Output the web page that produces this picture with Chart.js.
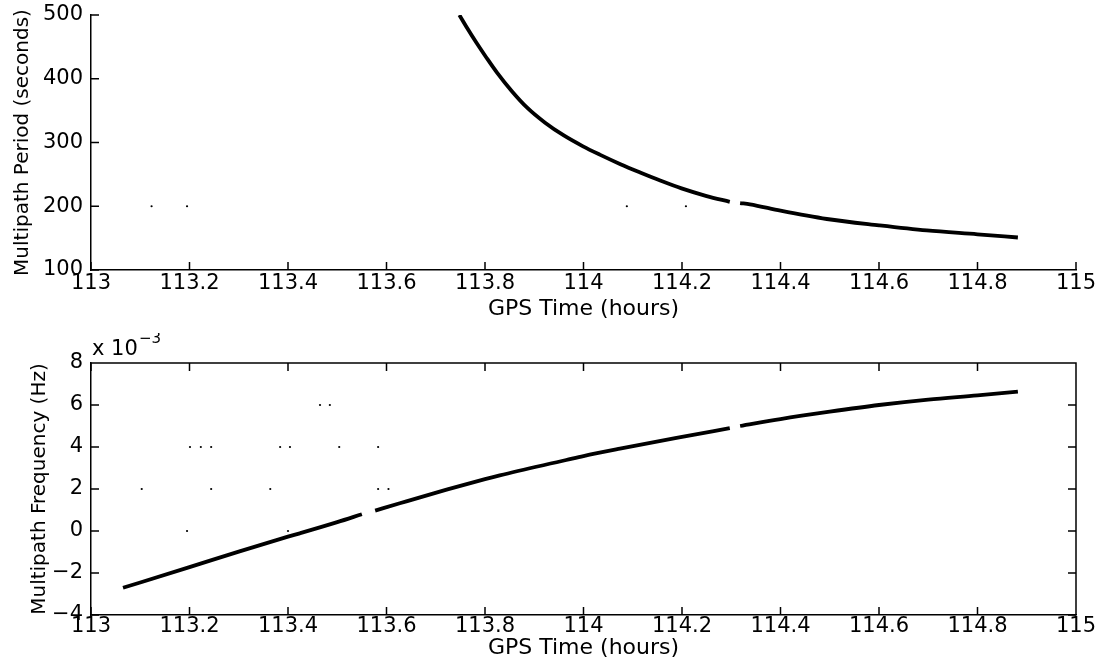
<!DOCTYPE html>
<html>
<head>
<meta charset="utf-8">
<script src="https://cdn.jsdelivr.net/npm/chart.js@4.4.0/dist/chart.umd.min.js"></script>
<style>
    body { margin: 0; background: #fff; }
    #wrap { position: relative; width: 1104px; height: 667px; }
    canvas { position: absolute; left: 0; }
    #periodChart { top: 0; }
    #freqChart { top: 333px; }
</style>
</head>
<body>
<div id="wrap">
    <canvas id="periodChart" width="1104" height="333"></canvas>
    <canvas id="freqChart" width="1104" height="334"></canvas>
</div>
<script>
//data (time in GPS hours)
//period curve, two pieces either side of the gap at ~114.3 h
const periodTimeA = [113.748, 113.765, 113.783, 113.803, 113.824, 113.855, 113.885, 113.922, 113.960,
    113.999, 114.033, 114.075, 114.115, 114.157, 114.199, 114.250, 114.297];
const periodValA = [500, 478, 456, 433, 410, 380, 355, 331, 311, 294, 281, 266, 253, 240, 228, 216, 207];
const periodTimeB = [114.318, 114.338, 114.400, 114.494, 114.600, 114.697, 114.800, 114.882];
const periodValB = [205, 203, 193, 180, 170, 162, 156, 151];
//lone outliers in the period plot
const periodDotTime = [113.123, 113.195, 114.088, 114.208];
const periodDotVal = [200, 200, 200, 200];

//frequency curve (x 10^-3 Hz), three pieces
const freqTimeA = [113.065, 113.100, 113.200, 113.300, 113.400, 113.424, 113.500, 113.550];
const freqValA = [-2.70, -2.45, -1.72, -0.98, -0.27, -0.11, 0.42, 0.80];
const freqTimeB = [113.577, 113.627, 113.722, 113.800, 113.830, 113.965, 114.000, 114.074, 114.200, 114.297];
const freqValB = [0.97, 1.32, 1.97, 2.47, 2.65, 3.38, 3.57, 3.92, 4.48, 4.90];
const freqTimeC = [114.318, 114.400, 114.500, 114.600, 114.700, 114.800, 114.882];
const freqValC = [5.00, 5.33, 5.68, 6.00, 6.26, 6.46, 6.64];
//lone outliers in the frequency plot
const freqDotTime = [113.465, 113.485, 113.201, 113.223, 113.244, 113.384, 113.404, 113.504, 113.583,
    113.103, 113.244, 113.364, 113.583, 113.604, 113.195, 113.400];
const freqDotVal = [6, 6, 4, 4, 4, 4, 4, 4, 4, 2, 2, 2, 2, 2, 0, 0];

const timeTicks = [113, 113.2, 113.4, 113.6, 113.8, 114, 114.2, 114.4, 114.6, 114.8, 115];

const FONT = "'DejaVu Sans', sans-serif";
const TICK = 8;

//pair up x and y arrays
function toPoints(xs, ys) {
    return xs.map((v, i) => ({ x: v, y: ys[i] }));
}

function curveSet(xs, ys) {
    return {
        data: toPoints(xs, ys),
        showLine: true,
        borderColor: "#000",
        borderWidth: 3.8,
        pointRadius: 0,
        cubicInterpolationMode: "monotone"
    };
}

function dotSet(xs, ys) {
    return {
        data: toPoints(xs, ys),
        showLine: false,
        pointRadius: 1.1,
        pointBorderWidth: 0,
        backgroundColor: "#000",
        borderColor: "#000"
    };
}

//inward ticks, optional box and the exponent note, like matlab axes
const matlabAxes = {
    id: "matlabAxes",
    afterDraw(chart, args, opts) {
        const ctx = chart.ctx;
        const a = chart.chartArea;
        const xs = chart.scales.x, ys = chart.scales.y;
        ctx.save();
        ctx.strokeStyle = "#000";
        ctx.lineWidth = 1.5;
        ctx.beginPath();
        xs.ticks.forEach(t => {
            const px = xs.getPixelForValue(t.value);
            ctx.moveTo(px, a.bottom);
            ctx.lineTo(px, a.bottom - TICK);
            if (opts.box) {
                ctx.moveTo(px, a.top);
                ctx.lineTo(px, a.top + TICK);
            }
        });
        ys.ticks.forEach(t => {
            const py = ys.getPixelForValue(t.value);
            ctx.moveTo(a.left, py);
            ctx.lineTo(a.left + TICK, py);
            if (opts.box) {
                ctx.moveTo(a.right, py);
                ctx.lineTo(a.right - TICK, py);
            }
        });
        if (opts.box) {
            ctx.moveTo(a.left, a.top);
            ctx.lineTo(a.right, a.top);
            ctx.lineTo(a.right, a.bottom);
        }
        ctx.stroke();
        if (opts.exponent) {
            ctx.fillStyle = "#000";
            ctx.textBaseline = "alphabetic";
            ctx.font = "21px " + FONT;
            ctx.fillText("x 10", a.left + 1, a.top - 8);
            ctx.font = "15px " + FONT;
            ctx.fillText(opts.exponent, a.left + 48, a.top - 20);
        }
        ctx.restore();
    }
};

//shared axis builder
function makeScales(yMin, yMax, yStep, yTitle, sizes) {
    return {
        x: {
            type: "linear",
            min: 113,
            max: 115,
            afterBuildTicks: (s) => { s.ticks = timeTicks.map(v => ({ value: v })); },
            afterFit: (s) => { s.height = sizes.xHeight; },
            grid: { display: false, drawTicks: false },
            border: { display: true, color: "#000", width: 1.5 },
            ticks: {
                color: "#000",
                font: { family: FONT, size: 21, lineHeight: 1.0 },
                padding: sizes.xPad,
                maxRotation: 0,
                autoSkip: false,
                callback: (v) => String(Number(v.toFixed(1)))
            },
            title: {
                display: true,
                text: "GPS Time (hours)",
                color: "#000",
                font: { family: FONT, size: 22, lineHeight: 1.2 },
                padding: { top: 0, bottom: sizes.xTitlePad }
            }
        },
        y: {
            type: "linear",
            min: yMin,
            max: yMax,
            //fixed width, and no extra room asked for the end labels
            afterFit: (s) => { s.width = 91; s.paddingTop = 0; s.paddingBottom = 0; },
            grid: { display: false, drawTicks: false },
            border: { display: true, color: "#000", width: 1.5 },
            ticks: {
                stepSize: yStep,
                color: "#000",
                font: { family: FONT, size: 21 },
                padding: 8,
                callback: (v) => String(v).replace("-", "\u2212")
            },
            title: {
                display: true,
                text: yTitle,
                color: "#000",
                font: { family: FONT, size: 20, lineHeight: 1.2 },
                padding: { top: sizes.yTitlePad, bottom: 0 }
            }
        }
    };
}

function baseOptions(scales, padding, axesOpts) {
    return {
        responsive: false,
        animation: false,
        layout: { padding: padding },
        plugins: {
            legend: { display: false },
            tooltip: { enabled: false },
            matlabAxes: axesOpts
        },
        scales: scales
    };
}

document.addEventListener("DOMContentLoaded", () => {
    //1. top plot: multipath period
    new Chart(document.getElementById("periodChart").getContext("2d"), {
        type: "scatter",
        data: {
            datasets: [
                curveSet(periodTimeA, periodValA),
                curveSet(periodTimeB, periodValB),
                dotSet(periodDotTime, periodDotVal)
            ]
        },
        options: baseOptions(
            makeScales(100, 500, 100, "Multipath Period (seconds)",
                { xHeight: 63, xPad: 3, xTitlePad: 11, yTitlePad: 11 }),
            { top: 15, right: 28, left: 0, bottom: 0 },
            { box: false }
        ),
        plugins: [matlabAxes]
    });

    //2. bottom plot: multipath frequency
    new Chart(document.getElementById("freqChart").getContext("2d"), {
        type: "scatter",
        data: {
            datasets: [
                curveSet(freqTimeA, freqValA),
                curveSet(freqTimeB, freqValB),
                curveSet(freqTimeC, freqValC),
                dotSet(freqDotTime, freqDotVal)
            ]
        },
        options: baseOptions(
            makeScales(-4, 8, 2, "Multipath Frequency (Hz)",
                { xHeight: 52, xPad: 1, xTitlePad: 6, yTitlePad: 28 }),
            { top: 30, right: 28, left: 0, bottom: 0 },
            { box: true, exponent: "\u22123" }
        ),
        plugins: [matlabAxes]
    });
});
</script>
</body>
</html>
